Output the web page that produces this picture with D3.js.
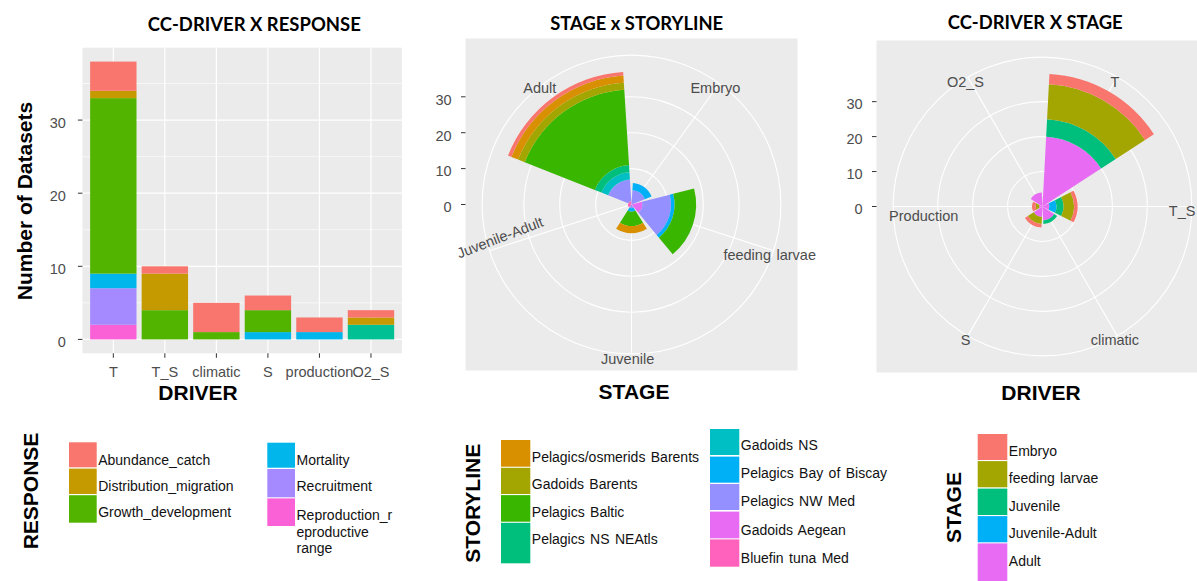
<!DOCTYPE html>
<html>
<head>
<meta charset="utf-8">
<script src="https://cdn.jsdelivr.net/npm/d3@7"></script>
<style>
  body { margin: 0; background: #fff; }
  svg { display: block; font-family: "Liberation Sans", Arial, sans-serif; }
</style>
</head>
<body>
<svg id="fig" width="1197" height="581"></svg>
<script>
// ---------- CC-DRIVER x RESPONSE (stacked bars) ----------
const drivers = ["T", "T_S", "climatic", "S", "production", "O2_S"];
const responses = ["Abundance_catch", "Distribution_migration", "Growth_development", "Unlabelled",
                   "Mortality", "Recruitment", "Reproduction_reproductive range"];
const responseColors = ["#F8766D", "#C49A00", "#53B400", "#00C094", "#00B6EB", "#A58AFF", "#FB61D7"];
const abundanceCatch        = [4, 1, 4, 2, 2, 1];
const distributionMigration = [1, 5, 0, 0, 0, 1];
const growthDevelopment     = [24, 4, 1, 3, 0, 0];
const unlabelledResponse    = [0, 0, 0, 0, 0, 2];
const mortality             = [2, 0, 0, 1, 1, 0];
const recruitment           = [5, 0, 0, 0, 0, 0];
const reproduction          = [2, 0, 0, 0, 0, 0];
const responseLegend = [
  ["Abundance_catch"], ["Distribution_migration"], ["Growth_development"],
  ["Mortality"], ["Recruitment"], ["Reproduction_r", "eproductive", "range"]
];
const countTicks = [0, 10, 20, 30];

// ---------- STAGE x STORYLINE (polar stacked bars) ----------
const stages = ["Embryo", "feeding larvae", "Juvenile", "Juvenile-Adult", "Adult"];
const storylines = ["Unlabelled", "Pelagics/osmerids Barents", "Gadoids Barents", "Pelagics Baltic",
                    "Pelagics NS NEAtls", "Gadoids NS", "Pelagics Bay of Biscay", "Pelagics NW Med",
                    "Gadoids Aegean", "Bluefin tuna Med"];
const storylineColors = ["#F8766D", "#D89000", "#A3A500", "#39B600", "#00BF7D", "#00BFC4",
                         "#00B0F6", "#9590FF", "#E76BF3", "#FF62BC"];
//                      Embryo, feeding larvae, Juvenile, Juvenile-Adult, Adult
const slUnlabelled     = [0, 0, 0, 0, 1];
const slOsmeridsBarents= [0, 0, 2, 0, 2];
const slGadoidsBarents = [0, 0, 0, 0, 2];
const slPelagicsBaltic = [0, 6, 4, 0, 21];
const slPelagicsNS     = [0, 0, 0, 0, 2];
const slGadoidsNS      = [0, 0, 0, 0, 2];
const slBiscay         = [2, 1, 1, 0, 0];
const slNWMed          = [4, 8, 1, 0, 6];
const slGadoidsAegean  = [0, 3, 0, 0, 0];
const slBluefinMed     = [0, 0, 0, 1, 1];

// ---------- CC-DRIVER x STAGE (polar stacked bars) ----------
const driverLabels = ["T", "T_S", "climatic", "S", "Production", "O2_S"];
const stageColors = ["#F8766D", "#A3A500", "#00BF7D", "#00B0F6", "#E76BF3"];
//                 T, T_S, climatic, S, Production, O2_S
const stEmbryo    = [3, 1, 0, 1, 1, 0];
const stFeeding   = [10, 3, 0, 2, 1, 0];
const stJuvenile  = [5, 2, 1, 0, 0, 0];
const stJuvAdult  = [0, 2, 0, 0, 0, 0];
const stAdult     = [20, 2, 4, 3, 1, 4];

// ---------- shared styling ----------
const PANEL_BG = "#EBEBEB";
const AXIS_TXT = "#4D4D4D";
const TICK_COL = "#333333";
const TITLE_FONT = "Lato, \"Open Sans\", sans-serif";

const svg = d3.select("#fig");

function table(cats, keys, columns) {
  return cats.map((c, i) => {
    const row = { cat: c };
    keys.forEach((k, j) => { row[k] = columns[j][i]; });
    return row;
  });
}

function fitWidth(sel, width) {
  const w = sel.node().getComputedTextLength();
  const fs = parseFloat(sel.attr("font-size"));
  if (w > 0) sel.attr("font-size", fs * width / w);
}

function title(text, cx, baseline, width) {
  const t = svg.append("text")
    .attr("x", cx).attr("y", baseline)
    .attr("text-anchor", "middle")
    .attr("font-family", TITLE_FONT)
    .attr("font-weight", 700)
    .attr("font-size", 20)
    .attr("fill", "#000")
    .text(text);
  fitWidth(t, width);
}

function axisTitle(text, x, y, rotate) {
  svg.append("text")
    .attr("transform", `translate(${x},${y})` + (rotate ? " rotate(-90)" : ""))
    .attr("text-anchor", "middle")
    .attr("font-weight", 700)
    .attr("font-size", 21)
    .attr("fill", "#000")
    .text(text);
}

// ================= Panel 1: stacked bars =================
(function barPanel() {
  const P = { left: 82.4, right: 401.9, top: 47.7, bottom: 353.3 };
  const rows = table(drivers, responses,
    [abundanceCatch, distributionMigration, growthDevelopment, unlabelledResponse,
     mortality, recruitment, reproduction]);
  const maxTotal = d3.max(rows, r => d3.sum(responses, k => r[k]));
  const pad = maxTotal * 0.05;

  const x = d3.scaleBand().domain(drivers).range([P.left, P.right])
    .paddingInner(0.1).paddingOuter(0.15);
  const y = d3.scaleLinear().domain([-pad, maxTotal + pad]).range([P.bottom, P.top]);
  const color = d3.scaleOrdinal().domain(responses).range(responseColors);

  const g = svg.append("g");
  g.append("rect").attr("x", P.left).attr("y", P.top)
    .attr("width", P.right - P.left).attr("height", P.bottom - P.top)
    .attr("fill", PANEL_BG);

  // minor grid
  const minor = countTicks.map(t => t + 5).filter(t => t < maxTotal + pad);
  g.selectAll(".ymin").data(minor).join("line")
    .attr("x1", P.left).attr("x2", P.right)
    .attr("y1", d => y(d)).attr("y2", d => y(d))
    .attr("stroke", "#fff").attr("stroke-width", 0.6);
  // major grid
  g.selectAll(".ymaj").data(countTicks).join("line")
    .attr("x1", P.left).attr("x2", P.right)
    .attr("y1", d => y(d)).attr("y2", d => y(d))
    .attr("stroke", "#fff").attr("stroke-width", 1.2);
  g.selectAll(".xmaj").data(drivers).join("line")
    .attr("x1", d => x(d) + x.bandwidth() / 2).attr("x2", d => x(d) + x.bandwidth() / 2)
    .attr("y1", P.top).attr("y2", P.bottom)
    .attr("stroke", "#fff").attr("stroke-width", 1.2);

  // stacked bars: first response level on top
  const series = d3.stack().keys(responses.slice().reverse())(rows);
  series.forEach(layer => {
    g.append("g").attr("fill", color(layer.key))
      .selectAll("rect").data(layer.filter(d => d[1] > d[0])).join("rect")
      .attr("x", d => x(d.data.cat))
      .attr("width", x.bandwidth())
      .attr("y", d => y(d[1]))
      .attr("height", d => y(d[0]) - y(d[1]));
  });

  // y axis
  const ya = g.append("g");
  ya.selectAll("line").data(countTicks).join("line")
    .attr("x1", P.left - 4.5).attr("x2", P.left)
    .attr("y1", d => y(d)).attr("y2", d => y(d))
    .attr("stroke", TICK_COL).attr("stroke-width", 1);
  ya.selectAll("text").data(countTicks).join("text")
    .attr("x", P.left - 16.5).attr("y", d => y(d) + 7.8)
    .attr("text-anchor", "end").attr("font-size", 14.5).attr("fill", AXIS_TXT)
    .text(d => d);

  // x axis
  const xa = g.append("g");
  xa.selectAll("line").data(drivers).join("line")
    .attr("x1", d => x(d) + x.bandwidth() / 2).attr("x2", d => x(d) + x.bandwidth() / 2)
    .attr("y1", P.bottom).attr("y2", P.bottom + 4.5)
    .attr("stroke", TICK_COL).attr("stroke-width", 1);
  xa.selectAll("text").data(drivers).join("text")
    .attr("x", d => x(d) + x.bandwidth() / 2).attr("y", 376.7)
    .attr("text-anchor", "middle").attr("font-size", 14.5).attr("fill", AXIS_TXT)
    .text(d => d);

  title("CC-DRIVER X RESPONSE", 254.3, 31, 213);
  axisTitle("DRIVER", 198, 400, false);
  axisTitle("Number of Datasets", 31.5, 201, true);
})();

// ================= Polar panels =================
function polarPanel(cfg) {
  const { left, top, size, cats, keys, colors, rows, labels, labelShift } = cfg;
  const cx = left + size / 2, cy = top + size / 2;
  const outer = 0.45 * size;
  const maxTotal = d3.max(rows, r => d3.sum(keys, k => r[k]));
  const r = d3.scaleLinear().domain([0, maxTotal]).range([0, 0.4 * size]);
  const theta = d3.scaleBand().domain(cats).range([0, 2 * Math.PI])
    .paddingInner(0.1).paddingOuter(0.05);
  const mid = c => theta(c) + theta.bandwidth() / 2;
  const color = d3.scaleOrdinal().domain(keys).range(colors);

  const g = svg.append("g");
  g.append("rect").attr("x", left).attr("y", top)
    .attr("width", size).attr("height", size).attr("fill", PANEL_BG);

  const c = g.append("g").attr("transform", `translate(${cx},${cy})`);
  // grid: radius circles and spokes
  c.selectAll(".ring").data(countTicks.filter(t => t > 0).map(t => r(t)).concat([outer]))
    .join("circle").attr("r", d => d)
    .attr("fill", "none").attr("stroke", "#fff").attr("stroke-width", 1.1);
  c.selectAll(".spoke").data(cats).join("line")
    .attr("x1", 0).attr("y1", 0)
    .attr("x2", d => outer * Math.sin(mid(d)))
    .attr("y2", d => -outer * Math.cos(mid(d)))
    .attr("stroke", "#fff").attr("stroke-width", 1.1);

  // stacked wedges: first fill level outermost
  const arc = d3.arc();
  const series = d3.stack().keys(keys.slice().reverse())(rows);
  series.forEach(layer => {
    c.append("g").attr("fill", color(layer.key))
      .selectAll("path").data(layer.filter(d => d[1] > d[0])).join("path")
      .attr("d", d => arc({
        innerRadius: r(d[0]), outerRadius: r(d[1]),
        startAngle: theta(d.data.cat), endAngle: theta(d.data.cat) + theta.bandwidth()
      }));
  });

  // radial axis on the left
  const ya = g.append("g");
  ya.selectAll("line").data(countTicks).join("line")
    .attr("x1", left - 4.5).attr("x2", left)
    .attr("y1", d => cy - r(d)).attr("y2", d => cy - r(d))
    .attr("stroke", TICK_COL).attr("stroke-width", 1);
  ya.selectAll("text").data(countTicks).join("text")
    .attr("x", left - 13.8).attr("y", d => cy - r(d) + 7.8)
    .attr("text-anchor", "end").attr("font-size", 14.5).attr("fill", AXIS_TXT)
    .text(d => d);

  // category labels around the circle
  cats.forEach((cat, i) => {
    const a = mid(cat);
    const px = cx + outer * Math.sin(a), py = cy - outer * Math.cos(a);
    const s = Object.assign({ dx: labelShift.dx, dy: labelShift.dy, anchor: "middle", rotate: 0 },
                            (cfg.labelTweaks || {})[cat] || {});
    g.append("text")
      .attr("transform", `translate(${px + s.dx},${py + s.dy}) rotate(${s.rotate})`)
      .attr("text-anchor", s.anchor)
      .attr("font-size", 14.5).attr("fill", AXIS_TXT)
      .attr("word-spacing", 1.5)
      .text(labels[i]);
  });
}

polarPanel({
  left: 465.5, top: 38.5, size: 332,
  cats: stages, labels: stages, keys: storylines, colors: storylineColors,
  rows: table(stages, storylines,
    [slUnlabelled, slOsmeridsBarents, slGadoidsBarents, slPelagicsBaltic, slPelagicsNS,
     slGadoidsNS, slBiscay, slNWMed, slGadoidsAegean, slBluefinMed]),
  labelShift: { dx: -3.9, dy: 9.6 },
  labelTweaks: { "Juvenile-Adult": { dx: 12.3, dy: -8.5, rotate: -21 } }
});
title("STAGE x STORYLINE", 636.7, 30, 173);
axisTitle("STAGE", 634, 399.3, false);

polarPanel({
  left: 876.5, top: 40.5, size: 332,
  cats: driverLabels, labels: driverLabels, keys: stages, colors: stageColors,
  rows: table(driverLabels, stages, [stEmbryo, stFeeding, stJuvenile, stJuvAdult, stAdult]),
  labelShift: { dx: -2.3, dy: 9.4 },
  labelTweaks: {
    "Production": { dx: -4, dy: 14.2, anchor: "start" },
    "T_S": { dx: 3.5, dy: 9.8, anchor: "end" }
  }
});
title("CC-DRIVER X STAGE", 1035.2, 29.3, 175);
axisTitle("DRIVER", 1041, 400, false);

// ================= Legends =================
function legend(cfg) {
  const g = svg.append("g");
  cfg.items.forEach(it => {
    g.append("rect").attr("x", it.x).attr("y", it.y0)
      .attr("width", cfg.keyW).attr("height", it.y1 - it.y0)
      .attr("fill", it.color);
    const t = g.append("text").attr("font-size", 14).attr("fill", "#111")
      .attr("word-spacing", 1.5);
    it.lines.forEach((ln, k) => {
      t.append("tspan").attr("x", it.x + cfg.keyW + 1.5).attr("y", it.base + k * 16.6).text(ln);
    });
  });
  axisTitle(cfg.title, cfg.titleX, cfg.titleY, true);
}

// RESPONSE legend (two columns)
const respShown = [0, 1, 2, 4, 5, 6];
const respKeyRows = [[442.3, 467.3], [468.6, 494], [495.2, 522.7], [442.7, 467.7], [469, 497.3], [498.4, 526]];
const respBase = [465, 491, 517.3, 465, 491, 520];
legend({
  title: "RESPONSE", titleX: 38, titleY: 491, keyW: 27.7,
  items: respShown.map((ri, i) => ({
    x: i < 3 ? 69 : 267.3,
    y0: respKeyRows[i][0], y1: respKeyRows[i][1], base: respBase[i],
    color: responseColors[ri], lines: responseLegend[i]
  }))
});

// STORYLINE legend (two columns, hidden first level)
const slKeyRows = [[440, 466.7], [467.8, 494], [495.1, 521.7], [522.8, 563.3],
                   [429, 455], [456.6, 482.7], [484, 510], [511.6, 538.3], [539.4, 566.7]];
const slBase = [461.7, 488.7, 516.7, 544.2, 450.3, 478, 506.3, 534.5, 562.6];
legend({
  title: "STORYLINE", titleX: 480, titleY: 503.3, keyW: 29.3,
  items: storylines.slice(1).map((s, i) => ({
    x: i < 4 ? 501 : 710,
    y0: slKeyRows[i][0], y1: slKeyRows[i][1], base: slBase[i],
    color: storylineColors[i + 1], lines: [s]
  }))
});

// STAGE legend
const stKeyRows = [[434, 460], [461.1, 487.3], [488.6, 515], [516.1, 542.3], [543.4, 581]];
const stBase = [456, 482.7, 510.7, 538.3, 566];
legend({
  title: "STAGE", titleX: 960.5, titleY: 507.5, keyW: 29.6,
  items: stages.map((s, i) => ({
    x: 977.7, y0: stKeyRows[i][0], y1: stKeyRows[i][1], base: stBase[i],
    color: stageColors[i], lines: [s]
  }))
});
</script>
</body>
</html>
